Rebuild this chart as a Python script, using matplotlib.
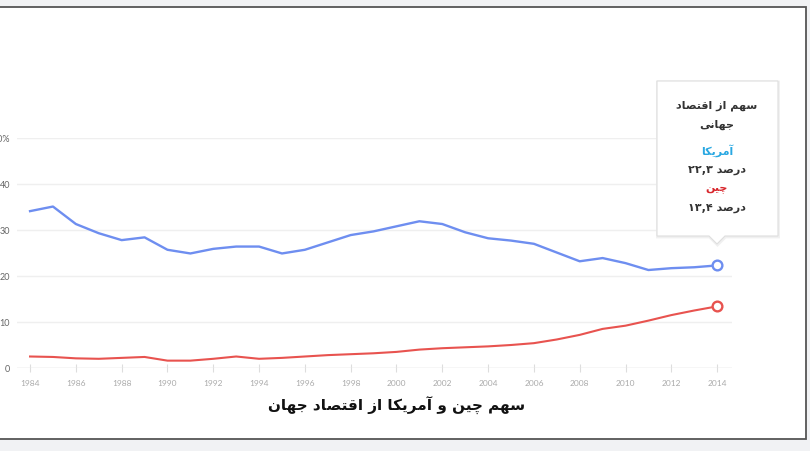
import matplotlib.pyplot as plt
from matplotlib.patches import Rectangle, Polygon

# data (percent of world economy)
years = list(range(1984, 2015))
us_share = [34.1, 35.1, 31.3, 29.3, 27.8, 28.4, 25.7, 24.9, 25.9, 26.4,
            26.4, 24.9, 25.7, 27.3, 28.9, 29.7, 30.8, 31.9, 31.3, 29.5,
            28.2, 27.7, 27.0, 25.1, 23.2, 23.9, 22.8, 21.3, 21.7, 21.9, 22.3]
china_share = [2.5, 2.4, 2.1, 2.0, 2.2, 2.4, 1.6, 1.6, 2.0, 2.5,
               2.0, 2.2, 2.5, 2.8, 3.0, 3.2, 3.5, 4.0, 4.3, 4.5,
               4.7, 5.0, 5.4, 6.2, 7.2, 8.5, 9.2, 10.3, 11.5, 12.5, 13.4]
y_ticks = [0, 10, 20, 30, 40, 50]
y_labels = ['0', '10', '20', '30', '40', '50%']
x_ticks = list(range(1984, 2015, 2))

title = 'سهم چین و آمریکا از اقتصاد جهان'
tip_title = ['سهم از اقتصاد', 'جهانی']
us_name = 'آمریکا'
us_value = 'درصد ۲۲,۳'
china_name = 'چین'
china_value = 'درصد ۱۳,۴'

# arabic letter forms: isolated, final, initial, medial
FORMS = {
    'ا': ('\uFE8D', '\uFE8E', None, None),
    'آ': ('\uFE81', '\uFE82', None, None),
    'ب': ('\uFE8F', '\uFE90', '\uFE91', '\uFE92'),
    'ت': ('\uFE95', '\uFE96', '\uFE97', '\uFE98'),
    'ج': ('\uFE9D', '\uFE9E', '\uFE9F', '\uFEA0'),
    'چ': ('\uFB7A', '\uFB7B', '\uFB7C', '\uFB7D'),
    'د': ('\uFEA9', '\uFEAA', None, None),
    'ر': ('\uFEAD', '\uFEAE', None, None),
    'ز': ('\uFEAF', '\uFEB0', None, None),
    'س': ('\uFEB1', '\uFEB2', '\uFEB3', '\uFEB4'),
    'ص': ('\uFEB9', '\uFEBA', '\uFEBB', '\uFEBC'),
    'ق': ('\uFED5', '\uFED6', '\uFED7', '\uFED8'),
    'ک': ('\uFB8E', '\uFB8F', '\uFB90', '\uFB91'),
    'م': ('\uFEE1', '\uFEE2', '\uFEE3', '\uFEE4'),
    'ن': ('\uFEE5', '\uFEE6', '\uFEE7', '\uFEE8'),
    'ه': ('\uFEE9', '\uFEEA', '\uFEEB', '\uFEEC'),
    'و': ('\uFEED', '\uFEEE', None, None),
    'ی': ('\uFBFC', '\uFBFD', '\uFBFE', '\uFBFF'),
}
DIGITS = set('۰۱۲۳۴۵۶۷۸۹0123456789,')


def shape(text):
    # join letters, then lay out right to left (digit runs stay left to right)
    out = []
    for i, ch in enumerate(text):
        if ch not in FORMS:
            out.append(ch)
            continue
        prev = text[i - 1] if i > 0 else ''
        nxt = text[i + 1] if i + 1 < len(text) else ''
        join_prev = prev in FORMS and FORMS[prev][2] is not None
        join_next = nxt in FORMS and FORMS[ch][2] is not None
        f = FORMS[ch]
        if join_prev and join_next:
            out.append(f[3])
        elif join_prev:
            out.append(f[1])
        elif join_next:
            out.append(f[2])
        else:
            out.append(f[0])
    runs = []
    for ch in out:
        if ch in DIGITS and runs and runs[-1][0] in DIGITS:
            runs[-1] += ch
        else:
            runs.append(ch)
    return ''.join(reversed(runs))


W, H = 810, 452
def fx(px):
    return px / W
def fy(py):
    return 1 - py / H

fig = plt.figure(figsize=(8.1, 4.52), dpi=100)
fig.patch.set_facecolor('#f1f2f4')

# white card with dark border
fig.patches.append(Rectangle((fx(-10), fy(440)), fx(806) - fx(-10), fy(8) - fy(440),
                             transform=fig.transFigure, facecolor='white',
                             edgecolor='#555555', linewidth=1.3, zorder=-5))

ax = fig.add_axes([fx(17), fy(369), fx(732) - fx(17), fy(139) - fy(369)])
ax.patch.set_alpha(0)
ax.set_xlim(1983.43, 2014.65)
ax.set_ylim(0, 50)

ax.set_yticks(y_ticks)
ax.set_yticklabels(y_labels, family=['Lato', 'DejaVu Sans'])
ax.set_xticks(x_ticks)
ax.set_xticklabels([str(y) for y in x_ticks], family=['Lato', 'DejaVu Sans'])
ax.grid(axis='y', color='#efefef', linewidth=1)
for s in ax.spines.values():
    s.set_visible(False)
ax.axhline(0, color='#e2e2e2', linewidth=1)
ax.tick_params(axis='y', length=0, pad=5, labelsize=6.5, labelcolor='#666666')
ax.tick_params(axis='x', length=6, direction='inout', color='#dddddd',
               pad=5, labelsize=6, labelcolor='#aaaaaa')

blue = '#6e8ef0'
red = '#e8534f'
ax.plot(years, us_share, color=blue, linewidth=1.7, solid_joinstyle='round')
ax.plot(years, china_share, color=red, linewidth=1.5, solid_joinstyle='round')
ax.plot(years[-1], us_share[-1], 'o', mfc='white', mec=blue, mew=1.7, ms=7, clip_on=False)
ax.plot(years[-1], china_share[-1], 'o', mfc='white', mec=red, mew=1.7, ms=7, clip_on=False)

# tooltip
box = [(657, 82), (778, 82), (778, 237), (725, 237), (717, 245), (709, 237), (657, 237)]
shadow = Polygon([(fx(x + 0.5), fy(y + 1)) for x, y in box], closed=True,
                 transform=fig.transFigure, facecolor='#f0f0f0', edgecolor='#f0f0f0',
                 linewidth=2, zorder=4)
tip = Polygon([(fx(x), fy(y)) for x, y in box], closed=True,
              transform=fig.transFigure, facecolor='white', edgecolor='#dedede',
              linewidth=0.8, zorder=5)
fig.patches.extend([shadow, tip])

tx = fx(717)
tkw = dict(ha='center', va='center', fontweight='bold', family='DejaVu Sans', zorder=6)
fig.text(tx, fy(106), shape(tip_title[0]), fontsize=8, color='#333333', **tkw)
fig.text(tx, fy(125), shape(tip_title[1]), fontsize=8, color='#333333', **tkw)
fig.text(tx, fy(151), shape(us_name), fontsize=8, color='#2aa8e2', **tkw)
fig.text(tx, fy(170), shape(us_value), fontsize=8, color='#333333', **tkw)
fig.text(tx, fy(189), shape(china_name), fontsize=8, color='#d8262c', **tkw)
fig.text(tx, fy(208), shape(china_value), fontsize=8, color='#333333', **tkw)

fig.text(fx(397), fy(406), shape(title), ha='center', va='center', fontsize=11,
         fontweight='bold', family='DejaVu Sans', color='#111111')

fig.savefig('out.png', dpi=100, facecolor=fig.get_facecolor())
